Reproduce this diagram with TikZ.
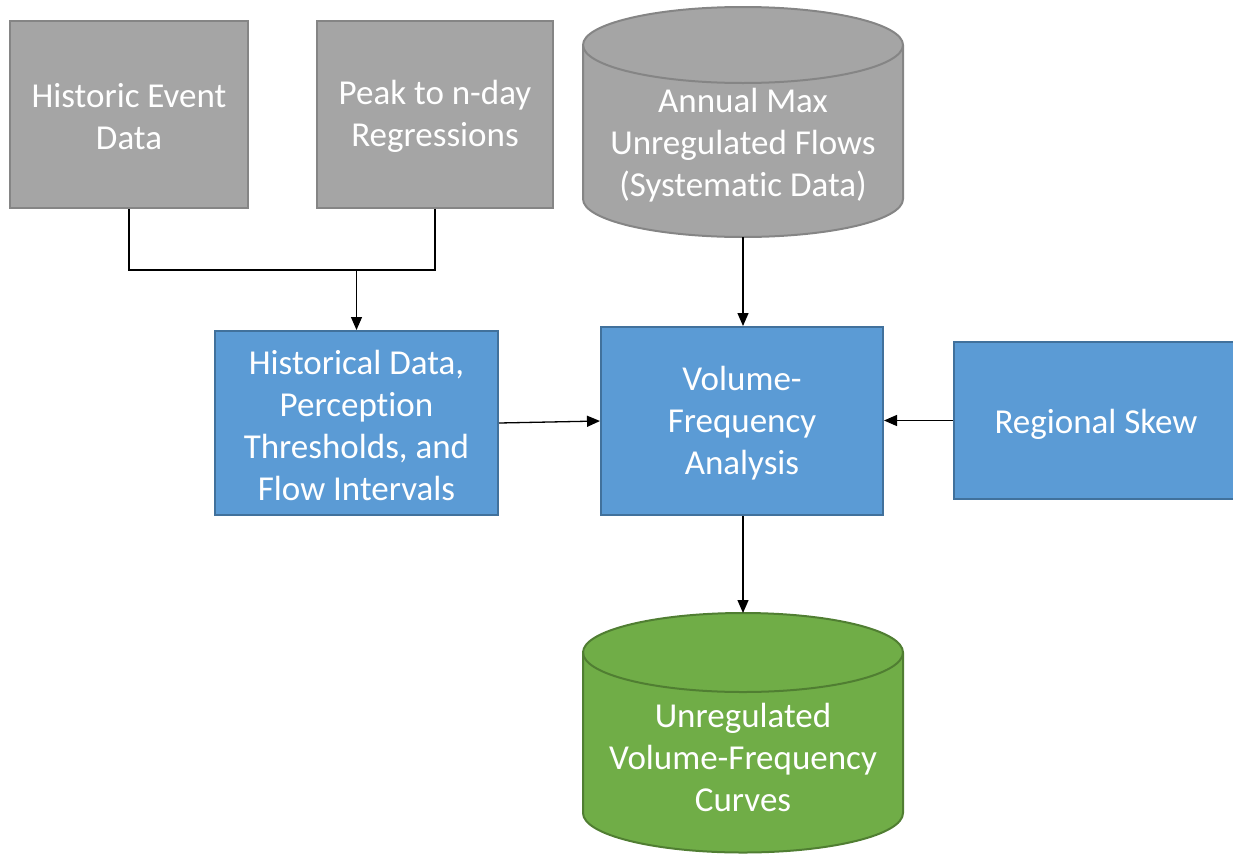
\documentclass[tikz,border=0pt]{standalone}
\usepackage{fontspec}
\setmainfont{Carlito}[Ligatures={NoCommon}]
\usetikzlibrary{arrows.meta}
\definecolor{grayfill}{HTML}{A5A5A5}
\definecolor{grayline}{HTML}{858585}
\definecolor{bluefill}{HTML}{5B9BD5}
\definecolor{blueline}{HTML}{41719C}
\definecolor{greenfill}{HTML}{70AD47}
\definecolor{greenline}{HTML}{507E32}
\tikzset{
  boxtext/.style={text=white, align=center, font=\fontsize{35}{42}\selectfont, inner sep=0pt},
  graybox/.style={rectangle, draw=grayline, fill=grayfill, line width=2pt, inner sep=0pt},
  bluebox/.style={rectangle, draw=blueline, fill=bluefill, line width=2pt, inner sep=0pt},
  link/.style={draw=black, line width=1.3pt},
  arrowlink/.style={link, -{Triangle[length=13pt,width=11pt]}},
}
% cylinder: #1 centre x, #2 top ellipse centre y, #3 bottom ellipse centre y,
% #4 x radius, #5 y radius, #6 fill, #7 outline
\newcommand{\drumshape}[7]{%
  \path[fill=#6, draw=#7, line width=2pt]
    (#1-#4,#2) -- (#1-#4,#3) arc[start angle=180, end angle=360, x radius=#4pt, y radius=#5pt]
    -- (#1+#4,#2) arc[start angle=0, end angle=180, x radius=#4pt, y radius=#5pt] -- cycle;
  \draw[#7, line width=2pt] (#1-#4,#2) arc[start angle=180, end angle=360, x radius=#4pt, y radius=#5pt];
}
\begin{document}
\begin{tikzpicture}[x=1pt,y=1pt]
\useasboundingbox (0,0) rectangle (1233,-854);

% source data boxes
\node[graybox, minimum width=238pt, minimum height=187pt] (hist) at (129,-114.5) {};
\node[boxtext] (histtxt) at ([yshift=-2pt]hist.center) {Historic Event\\Data};
\node[graybox, minimum width=236pt, minimum height=187pt] (peak) at (435,-114.5) {};
\node[boxtext] (peaktxt) at ([yshift=-2pt]peak.center) {Peak to n-day\\Regressions};

% systematic data store
\drumshape{743}{-45}{-199}{160}{38}{grayfill}{grayline}
\node[boxtext] (amax) at (743,-145) {Annual Max\\Unregulated Flows\\(Systematic Data)};
\coordinate (amaxbot) at (743,-237);

% processing boxes
\node[bluebox, minimum width=283pt, minimum height=184pt] (histdata) at (356.5,-423) {};
\node[boxtext] (histdatatxt) at ([yshift=-2pt]histdata.center) {Historical Data,\\Perception\\Thresholds, and\\Flow Intervals};
\node[bluebox, minimum width=282pt, minimum height=188pt] (vfa) at (742,-421) {};
\node[boxtext] (vfatxt) at ([yshift=-2pt]vfa.center) {Volume-\\Frequency\\Analysis};
\node[bluebox, minimum width=284pt, minimum height=157pt] (skew) at (1096,-420.5) {};
\node[boxtext] (skewtxt) at ([yshift=-4pt]skew.center) {Regional Skew};

% result store
\drumshape{743}{-652.5}{-813}{160}{39.5}{greenfill}{greenline}
\node[boxtext] (curves) at (743,-757) {Unregulated\\Volume-Frequency\\Curves};
\coordinate (curvestop) at (743,-613);

% connectors
\coordinate (join) at (histdata.north |- 0,-270);
\draw[link] (hist.south) |- (join) -| (peak.south);
\draw[arrowlink] (join) -- (histdata.north);
\draw[arrowlink] (histdata.east) -- (vfa.west);
\draw[arrowlink] (amaxbot) -- (vfa.north -| amaxbot);
\draw[arrowlink] (skew.west) -- (vfa.east |- skew.west);
\draw[arrowlink] (vfa.south -| curvestop) -- (curvestop);
\end{tikzpicture}
\end{document}
